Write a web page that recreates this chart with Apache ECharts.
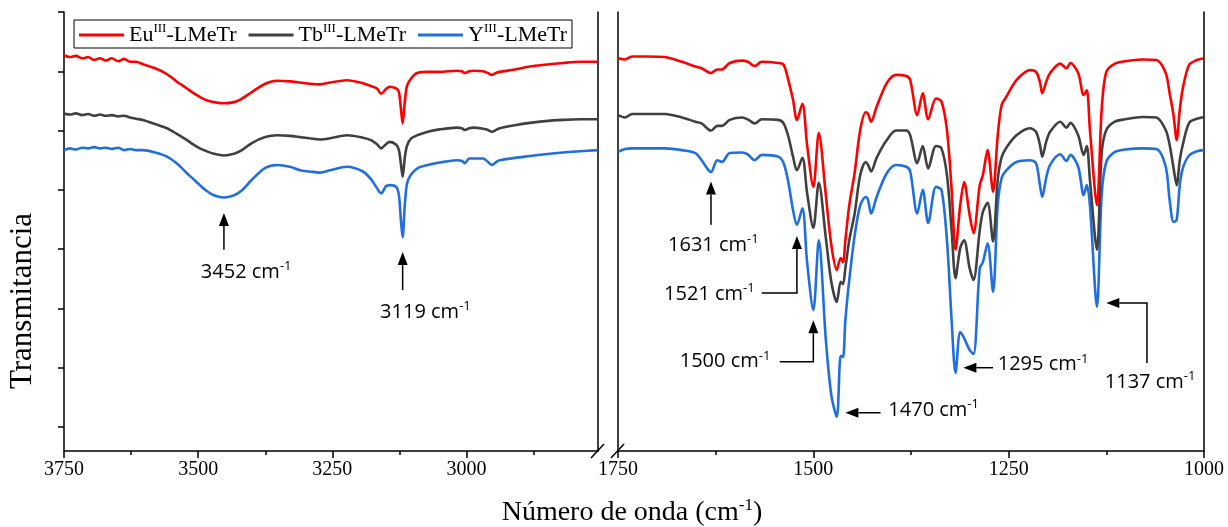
<!DOCTYPE html>
<html>
<head>
<meta charset="utf-8">
<script src="https://cdn.jsdelivr.net/npm/echarts@6/dist/echarts.min.js"></script>
<style>
  html, body { margin: 0; padding: 0; background: #fff; }
  #main { width: 1228px; height: 527px; }
</style>
</head>
<body>
<div id="main"></div>
<script>
// FTIR spectra of the three LMeTr complexes, split axis (3750-2755 | 1750-1000 cm-1)
const seriesNames = ['Eu', 'Tb', 'Y'];
const seriesColors = ['#ff0000', '#404040', '#1f6fe0'];

// high wavenumber window
const wnHigh = [3750, 3739, 3728, 3716, 3705, 3694, 3683, 3672, 3661, 3649,
  3638, 3627, 3616, 3603, 3580, 3558, 3539, 3521, 3510, 3497,
  3484, 3471, 3452, 3433, 3420, 3400, 3375, 3353, 3329, 3310,
  3292, 3273, 3254, 3223, 3193, 3178, 3167, 3159, 3150, 3143,
  3131, 3126, 3122, 3119, 3115, 3111, 3104, 3092, 3072, 3050,
  3018, 3009, 3003, 2995, 2986, 2969, 2960, 2953, 2943, 2938,
  2910, 2882, 2854, 2820, 2789, 2755];
const euHigh = [62.7, 62.4, 62.6, 62.2, 62.4, 61.9, 62.2, 61.8, 62.2, 61.7,
  62.1, 61.6, 61.6, 61.2, 60.5, 59.5, 58.2, 57.1, 56.4, 55.7,
  55.1, 54.8, 54.6, 54.8, 55.3, 56.5, 57.9, 58.4, 58.3, 58.1,
  57.9, 57.8, 58.1, 58.5, 58.0, 57.5, 57.1, 56.2, 57.0, 57.4,
  57.1, 56.5, 53.5, 51.2, 54.8, 57.5, 58.7, 59.7, 59.9, 59.9,
  60.1, 60.0, 59.7, 60.0, 60.1, 60.0, 59.7, 59.4, 59.8, 59.9,
  60.3, 60.8, 61.1, 61.4, 61.6, 61.6];
const tbHigh = [52.9, 52.7, 52.9, 52.6, 52.8, 52.5, 52.7, 52.5, 52.6, 52.4,
  52.5, 52.2, 52.0, 51.8, 51.1, 50.4, 49.4, 48.4, 47.7, 47.0,
  46.5, 46.1, 45.8, 46.1, 46.6, 47.9, 48.9, 49.2, 49.1, 48.9,
  48.7, 48.5, 48.7, 49.2, 48.8, 48.4, 47.7, 47.0, 47.7, 48.1,
  47.6, 46.7, 44.2, 42.2, 45.4, 47.4, 48.6, 49.2, 49.8, 50.2,
  50.5, 50.4, 50.1, 50.4, 50.5, 50.3, 50.1, 49.8, 50.2, 50.4,
  50.9, 51.3, 51.6, 51.8, 51.9, 51.9];
const yHigh = [46.7, 47.0, 46.8, 47.1, 47.0, 47.2, 47.0, 47.1, 46.9, 47.1,
  46.7, 46.9, 46.7, 46.7, 46.3, 45.6, 44.4, 42.8, 41.9, 40.8,
  39.8, 39.1, 38.7, 39.1, 39.8, 41.7, 43.7, 44.2, 43.9, 43.3,
  43.1, 42.9, 43.3, 43.9, 43.1, 41.8, 40.3, 39.4, 40.6, 40.8,
  40.5, 39.1, 34.6, 32.0, 37.4, 41.0, 42.5, 43.6, 44.2, 44.6,
  45.0, 44.9, 44.5, 45.3, 45.3, 45.3, 44.7, 44.2, 44.8, 45.0,
  45.4, 45.7, 46.0, 46.3, 46.5, 46.7];

// fingerprint window
const wnLow = [1750, 1741, 1732, 1712, 1690, 1668, 1651, 1643, 1631, 1623,
  1617, 1607, 1591, 1584, 1575, 1566, 1545, 1538, 1532, 1526,
  1521, 1514, 1508, 1500, 1493, 1484, 1477, 1470, 1465, 1462,
  1459, 1454, 1447, 1440, 1433, 1430, 1426, 1419, 1406, 1394,
  1381, 1376, 1367, 1360, 1353, 1343, 1336, 1329, 1323, 1318,
  1312, 1307, 1300, 1295, 1287, 1283, 1277, 1270, 1264, 1259,
  1253, 1240, 1223, 1215, 1210, 1207, 1202, 1197, 1184, 1176,
  1171, 1161, 1154, 1150, 1146, 1137, 1131, 1125, 1114, 1101,
  1079, 1061, 1049, 1044, 1039, 1035, 1031, 1027, 1019, 1009,
  1000];
const euLow = [62.2, 62.0, 62.5, 62.5, 62.4, 61.6, 60.8, 60.5, 59.7, 60.3,
  60.3, 61.4, 61.8, 61.6, 60.9, 61.6, 61.4, 61.1, 58.5, 55.2,
  51.8, 54.5, 47.6, 40.5, 49.6, 39.1, 30.7, 26.5, 28.5, 27.8,
  31.5, 37.4, 43.0, 50.1, 53.1, 52.8, 51.5, 54.0, 58.0, 59.4,
  59.2, 58.5, 52.6, 56.3, 51.9, 55.4, 54.9, 50.1, 40.0, 29.9,
  37.4, 41.3, 35.8, 32.7, 40.8, 42.5, 46.7, 39.7, 49.2, 54.3,
  55.7, 58.5, 60.2, 59.9, 58.2, 56.3, 58.2, 59.7, 61.3, 60.5,
  61.4, 59.7, 56.0, 56.8, 50.1, 37.4, 53.5, 59.9, 61.3, 61.7,
  62.0, 61.9, 59.7, 56.3, 52.6, 48.4, 53.5, 57.2, 61.1, 61.9,
  62.2];
const tbLow = [52.6, 52.2, 52.8, 52.8, 52.8, 52.2, 51.5, 51.2, 50.0, 50.8,
  50.8, 51.8, 52.2, 51.9, 51.2, 51.9, 51.8, 51.2, 49.0, 45.6,
  43.3, 45.4, 39.5, 33.6, 41.2, 31.9, 24.5, 21.1, 24.5, 24.1,
  26.8, 31.5, 36.1, 42.5, 44.7, 44.2, 43.1, 45.4, 48.4, 50.0,
  50.0, 49.2, 44.5, 47.4, 43.6, 47.4, 47.0, 42.5, 33.2, 25.1,
  30.2, 31.5, 26.8, 24.8, 33.2, 36.3, 37.8, 31.3, 41.7, 45.5,
  47.1, 49.2, 50.4, 49.8, 47.6, 45.6, 48.1, 49.8, 51.5, 50.5,
  51.3, 49.2, 45.9, 47.4, 41.7, 29.9, 46.2, 50.1, 51.5, 51.9,
  52.3, 52.2, 50.1, 47.6, 43.7, 40.8, 45.0, 47.7, 51.3, 52.0,
  52.3];
const yLow = [46.4, 46.9, 47.0, 47.0, 47.0, 46.7, 46.2, 45.0, 43.0, 45.0,
  44.7, 46.2, 46.3, 46.0, 45.0, 45.9, 45.6, 44.5, 41.3, 36.6,
  34.1, 36.9, 27.8, 19.7, 31.5, 14.7, 5.4, 1.7, 12.0, 11.8,
  18.0, 24.8, 32.4, 37.4, 38.8, 38.3, 36.0, 38.8, 42.8, 44.2,
  43.9, 43.1, 36.0, 40.0, 34.4, 40.5, 40.0, 31.5, 18.0, 9.1,
  16.0, 15.0, 13.0, 12.3, 26.8, 27.8, 31.0, 22.8, 37.4, 42.0,
  43.3, 44.7, 45.0, 44.5, 40.8, 38.8, 42.0, 44.2, 46.0, 44.9,
  45.9, 43.9, 39.1, 40.8, 37.4, 20.3, 39.1, 44.7, 46.4, 46.8,
  47.0, 46.9, 43.9, 38.3, 34.6, 34.9, 40.8, 43.7, 45.8, 46.5,
  46.7];

// axis ticks
const majorHigh = [3750, 3500, 3250, 3000];
const minorHigh = [3625, 3375, 3125, 2875];
const majorLow = [1750, 1500, 1250, 1000];
const minorLow = [1625, 1375, 1125];
const yTicks = [0, 10, 20, 30, 40, 50, 60, 70];

// band assignments: arrow path (last point = tip) and label anchor, in data units
const bandLabels = [
  { panel: 0, band: '3452', path: [[3452, 29.9], [3452, 36.1]], at: [3495, 26.1], align: 'left' },
  { panel: 0, band: '3119', path: [[3119, 23.1], [3119, 29.5]], at: [3161, 19.4], align: 'left' },
  { panel: 1, band: '1631', path: [[1631, 34.1], [1631, 41.4]], at: [1686, 30.7], align: 'left' },
  { panel: 1, band: '1521', path: [[1566, 22.6], [1521, 22.6], [1521, 32.2]], at: [1575, 22.4], align: 'right' },
  { panel: 1, band: '1500', path: [[1543, 11.0], [1500, 11.0], [1500, 18.0]], at: [1555, 11.0], align: 'right' },
  { panel: 1, band: '1470', path: [[1414, 2.4], [1459, 2.4]], at: [1404, 2.9], align: 'left' },
  { panel: 1, band: '1295', path: [[1270, 10.0], [1308, 10.0]], at: [1264, 10.5], align: 'left' },
  { panel: 1, band: '1137', path: [[1073, 10.8], [1073, 20.9], [1125, 20.9]], at: [1069, 7.6], align: 'center' }
];

const serif = 'Liberation Serif';
const sans = 'Open Sans';
const yMin = -4.05, yMax = 70;

function pairs(xs, ys) { return xs.map((x, i) => [x, ys[i]]); }

const gridTop = 12, gridBottom = 76;

function xAxisPair(grid, lo, hi, major, minor) {
  return [
    {
      gridIndex: grid, type: 'value', min: lo, max: hi, inverse: true, position: 'bottom',
      axisLine: { show: true, onZero: false, lineStyle: { color: '#000', width: 1.5 } },
      axisTick: { show: true, inside: false, length: 7, customValues: major, lineStyle: { color: '#000', width: 1.5 } },
      axisLabel: {
        show: true, customValues: major, margin: 9, color: '#000',
        fontFamily: serif, fontSize: 20, formatter: v => String(v)
      },
      splitLine: { show: false }
    },
    {
      gridIndex: grid, type: 'value', min: lo, max: hi, inverse: true, position: 'bottom',
      axisLine: { show: false, onZero: false },
      axisTick: { show: true, inside: false, length: 4, customValues: minor, lineStyle: { color: '#000', width: 1.5 } },
      axisLabel: { show: false },
      splitLine: { show: false }
    }
  ];
}

function yAxisDef(grid, pos, ticks) {
  return {
    gridIndex: grid, type: 'value', min: yMin, max: yMax, position: pos,
    axisLine: { show: true, onZero: false, lineStyle: { color: '#000', width: 1.5 } },
    axisTick: ticks ? { show: true, inside: false, length: 6, customValues: yTicks, lineStyle: { color: '#000', width: 1.5 } } : { show: false },
    axisLabel: { show: false },
    splitLine: { show: false }
  };
}

const highSets = [euHigh, tbHigh, yHigh];
const lowSets = [euLow, tbLow, yLow];
const series = [];
seriesNames.forEach((name, i) => {
  series.push({
    name, type: 'line', xAxisIndex: 0, yAxisIndex: 0, data: pairs(wnHigh, highSets[i]),
    showSymbol: false, smooth: 0.3, lineStyle: { color: seriesColors[i], width: 2.6 },
    itemStyle: { color: seriesColors[i] }, z: 3 - i
  });
  series.push({
    name, type: 'line', xAxisIndex: 2, yAxisIndex: 2, data: pairs(wnLow, lowSets[i]),
    showSymbol: false, smooth: 0.3, lineStyle: { color: seriesColors[i], width: 2.6 },
    itemStyle: { color: seriesColors[i] }, z: 3 - i
  });
});

const option = {
  animation: false,
  backgroundColor: '#fff',
  grid: [
    { left: 64, width: 534, top: gridTop, bottom: gridBottom },
    { left: 618, width: 586, top: gridTop, bottom: gridBottom }
  ],
  xAxis: [
    ...xAxisPair(0, 2755, 3750, majorHigh, minorHigh),
    ...xAxisPair(1, 1000, 1750, majorLow, minorLow)
  ],
  yAxis: [
    yAxisDef(0, 'left', true),
    yAxisDef(0, 'right', false),
    yAxisDef(1, 'left', false),
    yAxisDef(1, 'right', false)
  ],
  legend: {
    data: seriesNames,
    left: 74, top: 20,
    orient: 'horizontal',
    itemGap: 12, itemWidth: 45, itemHeight: 3,
    icon: 'rect',
    padding: [2, 5, 2, 5],
    borderColor: '#000', borderWidth: 1, borderRadius: 0,
    backgroundColor: '#fff',
    formatter: n => `{m|${n}}{s|III}{m|-LMeTr}`,
    textStyle: {
      color: '#000', fontFamily: serif, fontSize: 22,
      rich: {
        m: { fontFamily: serif, fontSize: 22, color: '#000', lineHeight: 26 },
        s: { fontFamily: serif, fontSize: 13, color: '#000', verticalAlign: 'top', lineHeight: 14 }
      }
    }
  },
  series
};

const chart = echarts.init(document.getElementById('main'));
chart.setOption(option);

// overlay: band arrows, labels, axis titles and break marks
function toPx(panel, v, t) {
  const xi = panel === 0 ? 0 : 2;
  const yi = panel === 0 ? 0 : 2;
  return [chart.convertToPixel({ xAxisIndex: xi }, v), chart.convertToPixel({ yAxisIndex: yi }, t)];
}

const graphics = [];
const headLen = 13, headHalf = 5;
bandLabels.forEach(b => {
  const pts = b.path.map(p => toPx(b.panel, p[0], p[1]));
  const tip = pts[pts.length - 1];
  const prev = pts[pts.length - 2];
  const dx = tip[0] - prev[0], dy = tip[1] - prev[1];
  const len = Math.hypot(dx, dy);
  const ux = dx / len, uy = dy / len;
  const base = [tip[0] - ux * headLen, tip[1] - uy * headLen];
  const linePts = pts.slice(0, -1).concat([base]);
  graphics.push({
    type: 'polyline', silent: true, z: 10,
    shape: { points: linePts },
    style: { stroke: '#000', lineWidth: 1.5, fill: null }
  });
  graphics.push({
    type: 'polygon', silent: true, z: 10,
    shape: { points: [tip, [base[0] - uy * headHalf, base[1] + ux * headHalf], [base[0] + uy * headHalf, base[1] - ux * headHalf]] },
    style: { fill: '#000', stroke: null }
  });
  const at = toPx(b.panel, b.at[0], b.at[1]);
  graphics.push({
    type: 'text', silent: true, z: 10,
    x: at[0], y: at[1],
    style: {
      text: `{m|${b.band} cm}{s|-1}`,
      align: b.align, verticalAlign: 'middle',
      rich: {
        m: { fontFamily: sans, fontSize: 20, fill: '#000', lineHeight: 24 },
        s: { fontFamily: sans, fontSize: 13, fill: '#000', verticalAlign: 'top', lineHeight: 15 }
      }
    }
  });
});

// axis titles
graphics.push({
  type: 'text', silent: true, x: 632, y: 513,
  style: {
    text: '{m|Número de onda (cm}{s|-1}{m|)}', align: 'center', verticalAlign: 'middle',
    rich: {
      m: { fontFamily: serif, fontSize: 28, fill: '#000', lineHeight: 31 },
      s: { fontFamily: serif, fontSize: 17, fill: '#000', verticalAlign: 'top', lineHeight: 18 }
    }
  }
});
graphics.push({
  type: 'text', silent: true, x: 23, y: 301, rotation: Math.PI / 2,
  style: { text: 'Transmitancia', align: 'center', verticalAlign: 'middle', fontFamily: serif, fontSize: 31, fill: '#000' }
});

// axis break marks
[[591, 458, 604, 444], [611, 458, 624, 444]].forEach(s => {
  graphics.push({
    type: 'line', silent: true, z: 10,
    shape: { x1: s[0], y1: s[1], x2: s[2], y2: s[3] },
    style: { stroke: '#000', lineWidth: 1.5 }
  });
});

chart.setOption({ graphic: graphics });
</script>
</body>
</html>
